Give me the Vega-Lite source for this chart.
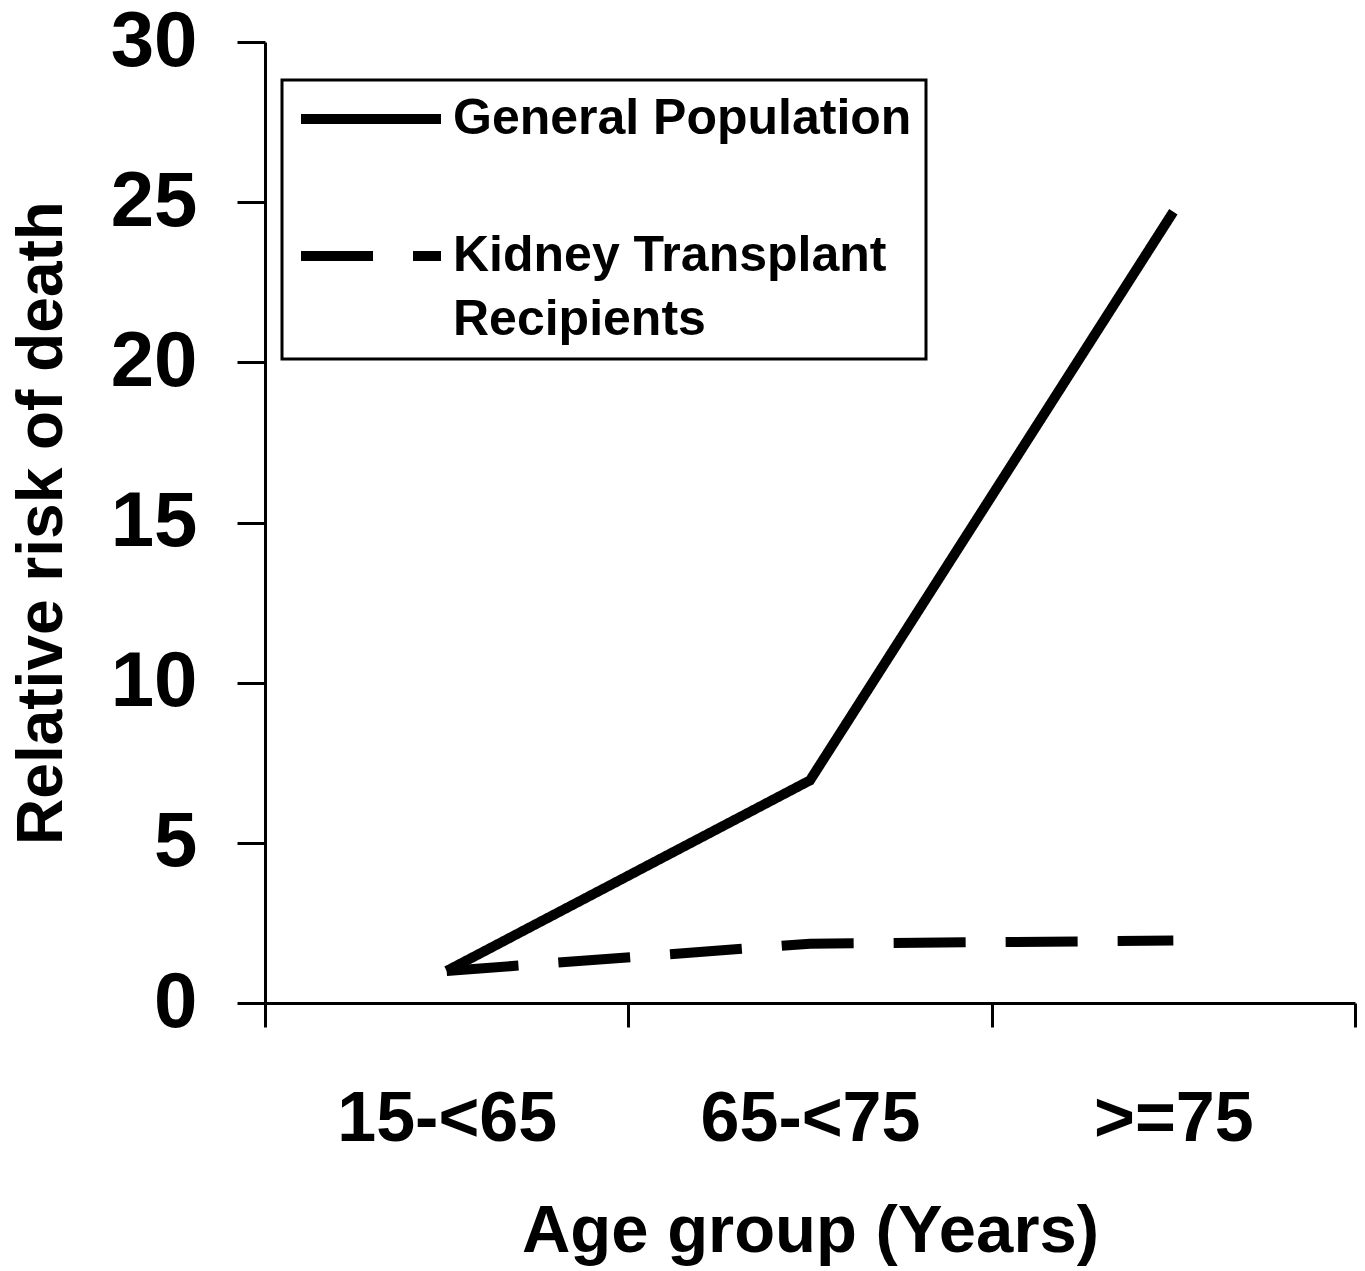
{
  "$schema": "https://vega.github.io/schema/vega-lite/v6.json",
  "width": 1090,
  "height": 961,
  "autosize": {"type": "none"},
  "padding": {"left": 265, "top": 42, "right": 10, "bottom": 268},
  "background": "white",
  "config": {
    "view": {"stroke": null},
    "font": "Liberation Sans",
    "legend": {"strokeWidth": 3},
    "style": {"guide-label": {"lineHeight": 64}},
    "axis": {
      "domainColor": "black",
      "domainWidth": 3,
      "tickColor": "black",
      "tickWidth": 3,
      "grid": false,
      "labelColor": "black",
      "labelFontWeight": "bold",
      "titleColor": "black",
      "titleFontWeight": "bold"
    }
  },
  "data": {
    "values": [
      {"age": "15-<65", "group": "General Population", "risk": 1.0},
      {"age": "65-<75", "group": "General Population", "risk": 6.95},
      {"age": ">=75", "group": "General Population", "risk": 24.7},
      {"age": "15-<65", "group": "Kidney Transplant Recipients", "risk": 1.0},
      {"age": "65-<75", "group": "Kidney Transplant Recipients", "risk": 1.85},
      {"age": ">=75", "group": "Kidney Transplant Recipients", "risk": 1.95}
    ]
  },
  "mark": {"type": "line", "strokeWidth": 10, "color": "black"},
  "encoding": {
    "x": {
      "field": "age",
      "type": "ordinal",
      "sort": ["15-<65", "65-<75", ">=75"],
      "scale": {"paddingInner": 0, "paddingOuter": 0},
      "axis": {
        "title": "Age group (Years)",
        "labelAngle": 0,
        "labelFontSize": 70,
        "labelLimit": 400,
        "labelPadding": 58,
        "tickSize": 24,
        "tickBand": "extent",
        "titleFontSize": 67,
        "titlePadding": 44
      }
    },
    "y": {
      "field": "risk",
      "type": "quantitative",
      "scale": {"domain": [0, 30], "nice": false},
      "axis": {
        "title": "Relative risk of death",
        "values": [0, 5, 10, 15, 20, 25, 30],
        "labelFontSize": 78,
        "labelPadding": 40,
        "tickSize": 28,
        "titleFontSize": 64,
        "titlePadding": 36
      }
    },
    "strokeDash": {
      "field": "group",
      "type": "nominal",
      "scale": {
        "domain": ["General Population", "Kidney Transplant Recipients"],
        "range": [[1, 0], [72, 40]]
      },
      "legend": {
        "title": null,
        "orient": "none",
        "legendX": 17,
        "legendY": 38,
        "direction": "vertical",
        "gridAlign": "none",
        "strokeColor": "black",
        "fillColor": "white",
        "padding": 14,
        "symbolType": "M-1,0H6",
        "symbolSize": 1600,
        "symbolStrokeWidth": 10,
        "symbolStrokeColor": "black",
        "symbolFillColor": "transparent",
        "labelFontSize": 50,
        "labelFontWeight": "bold",
        "labelColor": "black",
        "labelOffset": 107,
        "labelLimit": 700,
        "rowPadding": 87,
        "labelExpr": "datum.label == 'Kidney Transplant Recipients' ? ['Kidney Transplant', 'Recipients'] : datum.label"
      }
    }
  }
}
